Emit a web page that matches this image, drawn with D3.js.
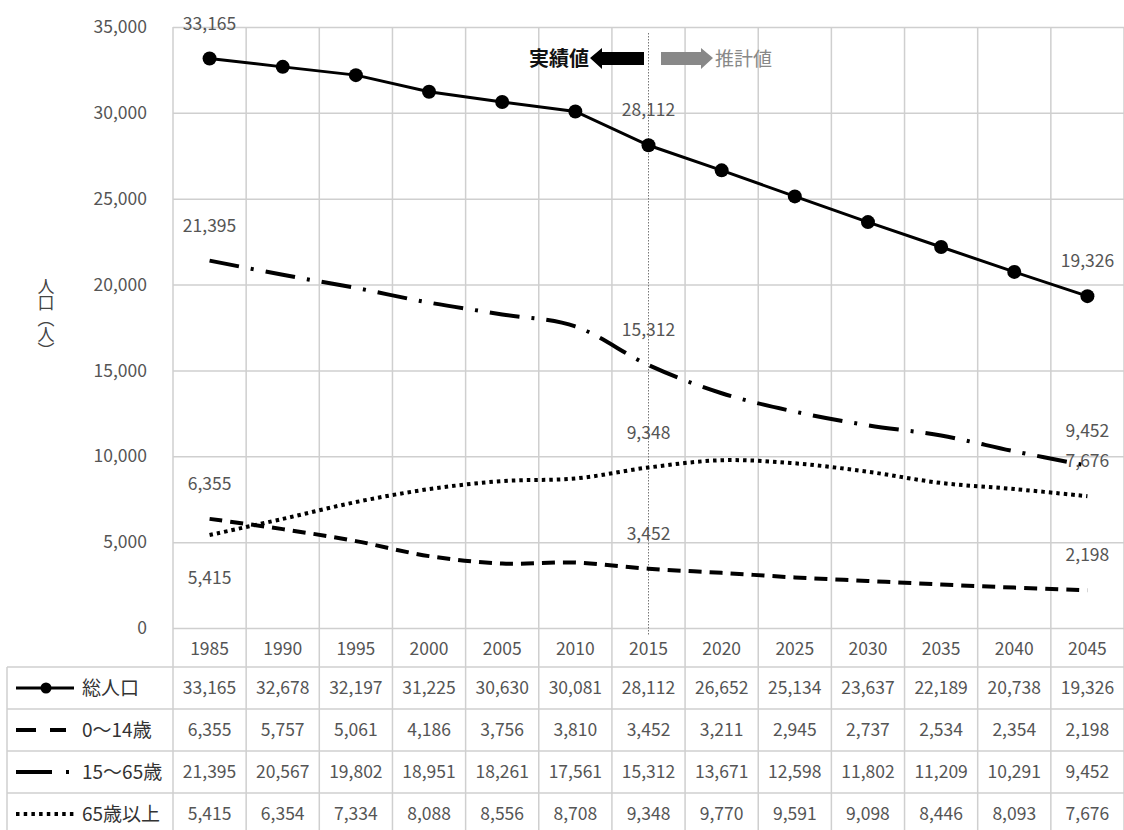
<!DOCTYPE html>
<html><head><meta charset="utf-8">
<script src="https://cdn.jsdelivr.net/npm/d3@7"></script>
<style>
html,body{margin:0;padding:0;background:#fff;}
svg{display:block;}
text{font-family:"Noto Sans CJK JP","Noto Sans",sans-serif;}
</style></head>
<body>
<svg id="chart" width="1124" height="830"></svg>
<script>
const years = ["1985","1990","1995","2000","2005","2010","2015","2020","2025","2030","2035","2040","2045"];
const total = [33165,32678,32197,31225,30630,30081,28112,26652,25134,23637,22189,20738,19326];
const age0_14 = [6355,5757,5061,4186,3756,3810,3452,3211,2945,2737,2534,2354,2198];
const age15_64 = [21395,20567,19802,18951,18261,17561,15312,13671,12598,11802,11209,10291,9452];
const age65 = [5415,6354,7334,8088,8556,8708,9348,9770,9591,9098,8446,8093,7676];
const seriesNames = ["総人口","0～14歳","15～65歳","65歳以上"];
const yTicks = [0,5000,10000,15000,20000,25000,30000,35000];
const yTitle = "人口（人）";

const svg = d3.select("#chart");
const L = 173, R = 1124, T = 27, B = 628;
const tableLeft = 7;
const rowTops = [667, 709, 751, 793, 835];
const grid = "#cfcfcf";
const txt = "#555";
const fs = 17.5;

const x = d3.scaleBand().domain(years).range([L, R]).padding(0);
const y = d3.scaleLinear().domain([0, 35000]).range([B, T]);
const cx = d => x(d) + x.bandwidth() / 2;

// horizontal gridlines
const yAxis = d3.axisLeft(y).tickValues(yTicks).tickSize(-(R - L)).tickFormat(d3.format(","));
const ga = svg.append("g").attr("transform", `translate(${L},0)`).call(yAxis);
ga.select(".domain").remove();
ga.selectAll(".tick line").attr("stroke", grid).attr("stroke-width", 1.5);
ga.selectAll(".tick text").attr("x", -26).attr("fill", txt).attr("font-size", fs);

// vertical gridlines (category boundaries) through plot and table
const bounds = years.map(d => x(d)).concat([R]);
svg.append("g").selectAll("line").data(bounds).join("line")
  .attr("x1", d => d).attr("x2", d => d).attr("y1", T).attr("y2", 830)
  .attr("stroke", grid).attr("stroke-width", 1.5);

// table horizontal lines
svg.append("g").selectAll("line").data(rowTops).join("line")
  .attr("x1", tableLeft).attr("x2", R).attr("y1", d => d).attr("y2", d => d)
  .attr("stroke", grid).attr("stroke-width", 1.5);
svg.append("line").attr("x1", tableLeft).attr("x2", tableLeft).attr("y1", rowTops[0]).attr("y2", 830)
  .attr("stroke", grid).attr("stroke-width", 1.5);

// y title (vertical writing)
svg.append("text").attr("x", 46).attr("y", 278).attr("fill", "#444").attr("font-size", 17)
  .style("writing-mode", "vertical-rl").style("text-orientation", "upright")
  .attr("letter-spacing", -1).text(yTitle);

// 2015 dotted divider
svg.append("line").attr("x1", cx("2015")).attr("x2", cx("2015")).attr("y1", 33).attr("y2", 636)
  .attr("stroke", "#777").attr("stroke-width", 1).attr("stroke-dasharray", "1.5,1.5");

// arrows annotation
svg.append("text").attr("x", 589).attr("y", 59).attr("text-anchor", "end").attr("dy", "0.35em")
  .attr("font-size", 20).attr("font-weight", "bold").attr("fill", "#111").text("実績値");
svg.append("path").attr("fill", "#000")
  .attr("d", "M590,58 L602,48 L602,52 L644,52 L644,65 L602,65 L602,69 Z");
svg.append("path").attr("fill", "#888")
  .attr("d", "M713,58 L701,48 L701,52 L661,52 L661,65 L701,65 L701,69 Z");
svg.append("text").attr("x", 715).attr("y", 59).attr("dy", "0.35em")
  .attr("font-size", 19).attr("fill", "#888").text("推計値");

// series
const smooth = d3.curveCatmullRom.alpha(0);
const series = [
  {name: seriesNames[0], vals: total, dash: null, width: 3, marker: true, curve: d3.curveLinear},
  {name: seriesNames[1], vals: age0_14, dash: "13,8", width: 4, marker: false, curve: smooth},
  {name: seriesNames[2], vals: age15_64, dash: "30,12,3,12", width: 4, marker: false, curve: smooth},
  {name: seriesNames[3], vals: age65, dash: "3.5,4", width: 4, marker: false, curve: smooth}
];
series.forEach(s => {
  const line = d3.line().x((d, i) => cx(years[i])).y(d => y(d)).curve(s.curve);
  svg.append("path").attr("d", line(s.vals)).attr("fill", "none").attr("stroke", "#000")
    .attr("stroke-width", s.width).attr("stroke-dasharray", s.dash);
  if (s.marker) {
    svg.append("g").selectAll("circle").data(s.vals).join("circle")
      .attr("cx", (d, i) => cx(years[i])).attr("cy", d => y(d)).attr("r", 7).attr("fill", "#000");
  }
});

// data labels
const labelIdx = [0, 6, 12];
const labels = [];
series.forEach((s, k) => {
  labelIdx.forEach(i => {
    let off = -35;
    if (k === 3 && i === 0) off = 43;
    labels.push({x: cx(years[i]), y: y(s.vals[i]) + off, t: d3.format(",")(s.vals[i])});
  });
});
svg.append("g").selectAll("text").data(labels).join("text")
  .attr("x", d => d.x).attr("y", d => d.y).attr("dy", "0.35em").attr("text-anchor", "middle")
  .attr("font-size", fs).attr("fill", txt).text(d => d.t);

// table header years
svg.append("g").selectAll("text").data(years).join("text")
  .attr("x", d => cx(d)).attr("y", (B + rowTops[0]) / 2 + 1).attr("dy", "0.35em").attr("text-anchor", "middle")
  .attr("font-size", fs).attr("fill", txt).text(d => d);

// table rows
series.forEach((s, k) => {
  const yc = (rowTops[k] + rowTops[k + 1]) / 2;
  svg.append("g").selectAll("text").data(s.vals).join("text")
    .attr("x", (d, i) => cx(years[i])).attr("y", yc).attr("dy", "0.35em").attr("text-anchor", "middle")
    .attr("font-size", fs).attr("fill", txt).text(d => d3.format(",")(d));
  // legend key
  const ls = svg.append("line").attr("x1", 16).attr("x2", 74).attr("y1", yc).attr("y2", yc)
    .attr("stroke", "#000").attr("stroke-width", s.width);
  if (k === 1) ls.attr("x2", 66).attr("stroke-dasharray", "20,14");
  if (k === 2) ls.attr("x2", 72).attr("stroke-dasharray", "36,14,3,14");
  if (k === 3) ls.attr("stroke-dasharray", "3.5,4.2");
  if (s.marker) svg.append("circle").attr("cx", 46).attr("cy", yc).attr("r", 5.5).attr("fill", "#000");
  svg.append("text").attr("x", 82).attr("y", yc).attr("dy", "0.35em").attr("font-size", 19)
    .attr("fill", "#333").text(s.name);
});
</script>
</body></html>
